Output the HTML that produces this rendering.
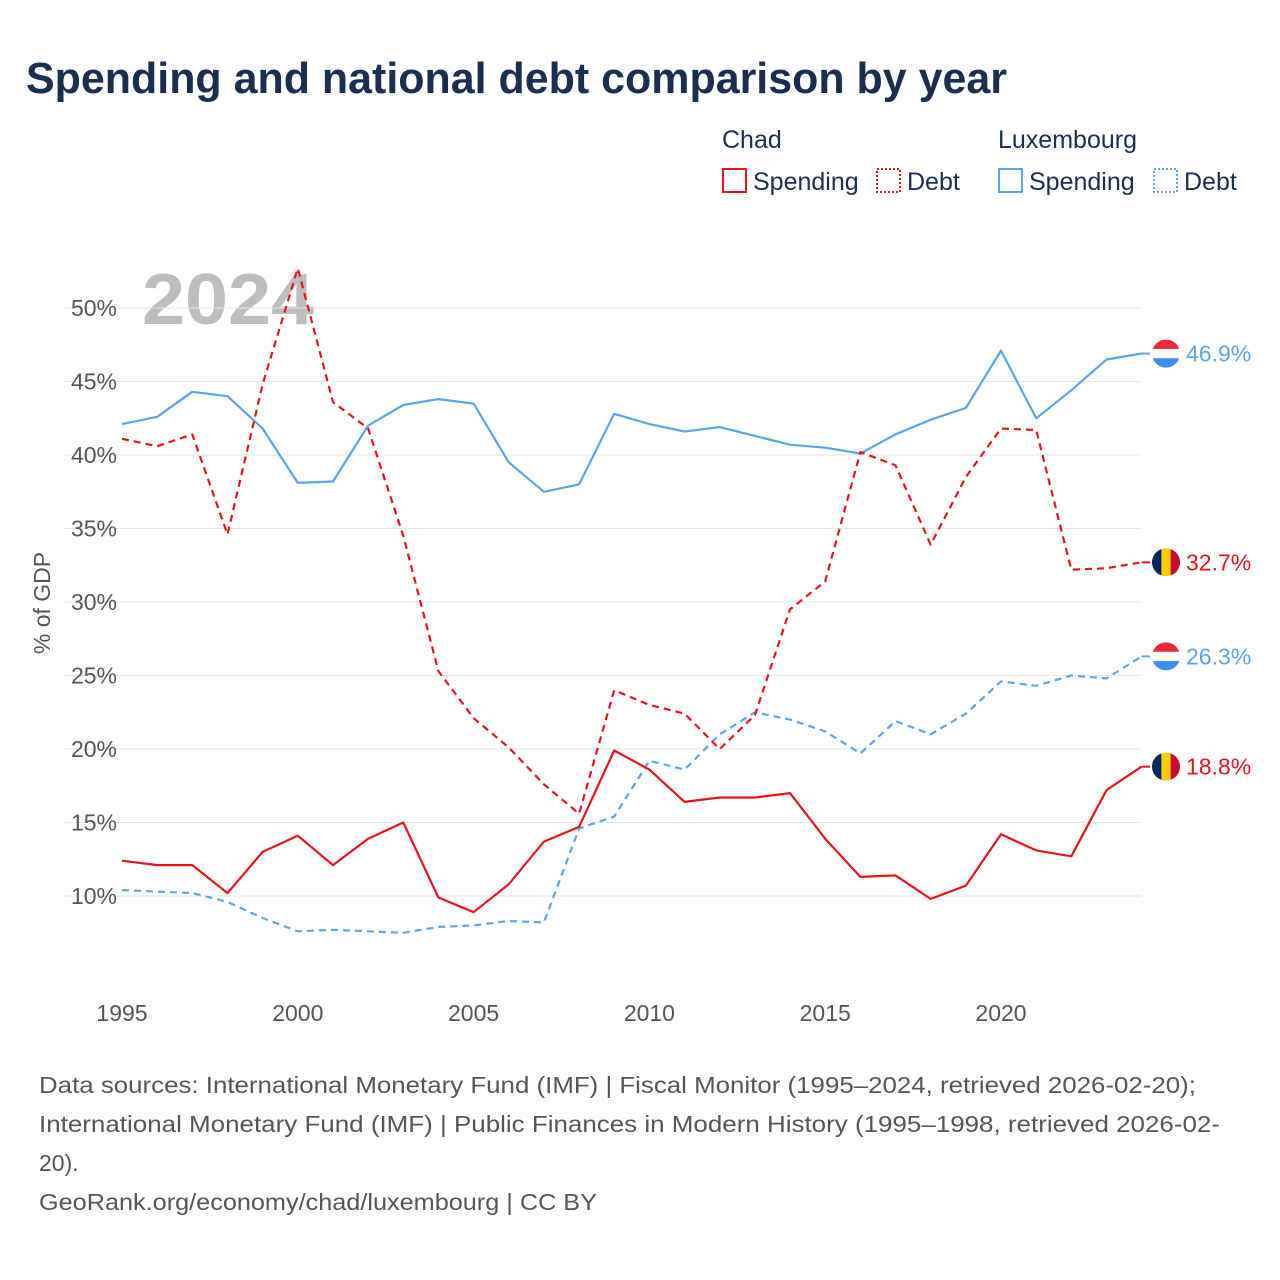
<!DOCTYPE html>
<html><head><meta charset="utf-8"><style>
body{margin:0;background:#fff;font-family:"Liberation Sans",sans-serif;}
#wrap{position:relative;width:1280px;height:1280px;overflow:hidden;}
</style></head><body>
<div id="wrap">
<svg id="svg" width="1280" height="1280" font-family="Liberation Sans, sans-serif">
<text x="26" y="93" font-size="44" font-weight="bold" fill="#1a2e4f" textLength="981" lengthAdjust="spacingAndGlyphs">Spending and national debt comparison by year</text>
<g font-size="25" fill="#1a2e4f">
<text x="722" y="148">Chad</text>
<text x="998" y="148">Luxembourg</text>
<g><rect x="723" y="169" width="23" height="23" fill="none" stroke="#e8141c" stroke-width="2"/><text x="753" y="190">Spending</text></g>
<g><rect x="877" y="169" width="23" height="23" fill="none" stroke="#e8141c" stroke-width="2" stroke-dasharray="2,2"/><text x="907" y="190">Debt</text></g>
<g><rect x="999" y="169" width="23" height="23" fill="none" stroke="#5aa5ea" stroke-width="2"/><text x="1029" y="190">Spending</text></g>
<g><rect x="1154" y="169" width="23" height="23" fill="none" stroke="#5aa5ea" stroke-width="2" stroke-dasharray="2,2"/><text x="1184" y="190">Debt</text></g>
</g>
<text x="142" y="324" font-size="72" font-weight="bold" fill="#bdbdbd" textLength="172" lengthAdjust="spacingAndGlyphs">2024</text>
<text transform="translate(50,603) rotate(-90)" text-anchor="middle" font-size="23" fill="#555">% of GDP</text>
<g id="grid"></g><g id="plot"></g>
<g font-size="23" fill="#555">
<text x="39" y="1093" textLength="1157" lengthAdjust="spacingAndGlyphs">Data sources: International Monetary Fund (IMF) | Fiscal Monitor (1995–2024, retrieved 2026-02-20);</text>
<text x="39" y="1132" textLength="1181" lengthAdjust="spacingAndGlyphs">International Monetary Fund (IMF) | Public Finances in Modern History (1995–1998, retrieved 2026-02-</text>
<text x="39" y="1171">20).</text>
<text x="39" y="1210" textLength="558" lengthAdjust="spacingAndGlyphs">GeoRank.org/economy/chad/luxembourg | CC BY</text>
</g>
</svg>
</div>
<script>
const years=[1995,1996,1997,1998,1999,2000,2001,2002,2003,2004,2005,2006,2007,2008,2009,2010,2011,2012,2013,2014,2015,2016,2017,2018,2019,2020,2021,2022,2023,2024];
const chadSpending=[12.4,12.1,12.1,10.2,13.0,14.1,12.1,13.9,15.0,9.9,8.9,10.8,13.7,14.7,19.9,18.6,16.4,16.7,16.7,17.0,13.9,11.3,11.4,9.8,10.7,14.2,13.1,12.7,17.2,18.8];
const chadDebt=[41.1,40.6,41.4,34.6,44.8,52.7,43.6,41.8,34.5,25.3,22.1,20.1,17.6,15.6,24.0,23.0,22.4,20.0,22.3,29.5,31.4,40.2,39.3,33.9,38.5,41.8,41.7,32.2,32.3,32.7];
const luxSpending=[42.1,42.6,44.3,44.0,41.8,38.1,38.2,42.0,43.4,43.8,43.5,39.5,37.5,38.0,42.8,42.1,41.6,41.9,41.3,40.7,40.5,40.1,41.4,42.4,43.2,47.1,42.5,44.4,46.5,46.9];
const luxDebt=[10.4,10.3,10.2,9.6,8.5,7.6,7.7,7.6,7.5,7.9,8.0,8.3,8.2,14.6,15.4,19.2,18.6,21.0,22.5,22.0,21.2,19.7,21.9,21.0,22.4,24.6,24.3,25.0,24.8,26.3];
const yTicks=[10,15,20,25,30,35,40,45,50];
const xTicks=[1995,2000,2005,2010,2015,2020];
const NS="http://www.w3.org/2000/svg";
const X=y=>122+(y-1995)*35.16;
const Y=v=>896-(v-10)*14.7;
function mk(t,a,p){const e=document.createElementNS(NS,t);for(const k in a)e.setAttribute(k,a[k]);p.appendChild(e);return e;}
const grid=document.getElementById('grid'),plot=document.getElementById('plot');
yTicks.forEach(v=>{
const l=mk('line',{x1:65,x2:1141,y1:Y(v),y2:Y(v),stroke:'#e6e6e6','stroke-width':1},grid);


const t=mk('text',{x:117,y:Y(v)+8,'text-anchor':'end','font-size':23,fill:'#555'},grid);t.textContent=v+'%';


});
xTicks.forEach(v=>{
const t=mk('text',{x:X(v),y:1021,'text-anchor':'middle','font-size':23,fill:'#555'},grid);t.textContent=v;


});
function series(vals,color,dash,name){
const d=vals.map((v,i)=>(i?'L':'M')+X(years[i]).toFixed(1)+','+Y(v).toFixed(1)).join(' ');
const p=mk('path',{d:d,fill:'none',stroke:color,'stroke-width':2.2,'stroke-dasharray':dash||'none','stroke-linejoin':'round'},plot);


}
series(luxSpending,'#5aa5ea',null,'lux-spending-line');
series(luxDebt,'#5aa5ea','7,5','lux-debt-line');
series(chadSpending,'#e8141c',null,'chad-spending-line');
series(chadDebt,'#e8141c','7,5','chad-debt-line');
function endLabel(vals,color,flag,name){
const v=vals[vals.length-1],y=Y(v),x=X(years[years.length-1]);
const g=mk('g',{},plot);


mk('line',{x1:x,x2:x+10,y1:y,y2:y,stroke:color,'stroke-width':2},g);
const cx=1166,r=14;
if(flag==='chad'){
mk('rect',{x:cx-r,y:y-r,width:2*r/3+0.5,height:2*r,fill:'#002664'},g);
mk('rect',{x:cx-r/3,y:y-r,width:2*r/3+0.5,height:2*r,fill:'#fecb00'},g);
mk('rect',{x:cx+r/3,y:y-r,width:2*r/3,height:2*r,fill:'#c60c30'},g);
}else{
mk('rect',{x:cx-r,y:y-r,width:2*r,height:2*r/3+0.5,fill:'#ed2939'},g);
mk('rect',{x:cx-r,y:y-r/3,width:2*r,height:2*r/3+0.5,fill:'#fff'},g);
mk('rect',{x:cx-r,y:y+r/3,width:2*r,height:2*r/3,fill:'#3b8ff0'},g);
}
mk('path',{d:`M${cx-r-2},${y-r-2}h${2*r+4}v${2*r+4}h${-2*r-4}z M${cx},${y-r} a${r},${r} 0 1,0 0.01,0z`,fill:'#fff','fill-rule':'evenodd'},g);
const t=mk('text',{x:1186,y:y+8,'font-size':23,fill:color},g);t.textContent=v.toFixed(1)+'%';
}
endLabel(luxSpending,'#5aa5ea','lux','lux-spending-end-label');
endLabel(chadDebt,'#e8141c','chad','chad-debt-end-label');
endLabel(luxDebt,'#5aa5ea','lux','lux-debt-end-label');
endLabel(chadSpending,'#e8141c','chad','chad-spending-end-label');
</script>
</body></html>
